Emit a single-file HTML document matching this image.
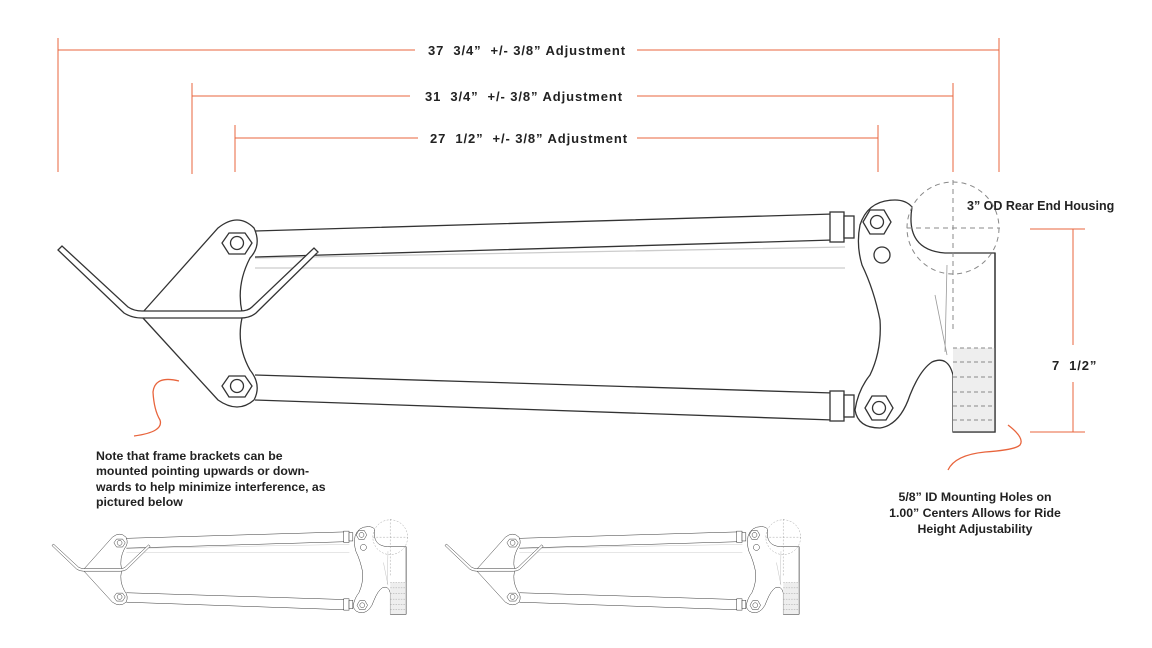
<!DOCTYPE html>
<html><head><style>
body{margin:0;background:#fff;}
svg{display:block;font-family:"Liberation Sans",sans-serif;}
.t{font-weight:bold;font-size:13px;fill:#222;letter-spacing:0.9px;}
.h{font-weight:bold;font-size:12.5px;fill:#222;}
.n{font-weight:bold;font-size:12.3px;fill:#222;}
</style></head><body>
<svg width="1152" height="648" viewBox="0 0 1152 648">
<defs>
<g id="part" fill="none" stroke="#333" stroke-width="1.3">
  <path d="M255 258 L845 247 M255 268 L845 268" stroke="#ccc"/>
  <path d="M255 231 L833 214 M255 257 L833 240" />
  <rect x="830" y="212" width="14" height="30" fill="#fff"/>
  <rect x="844" y="216" width="10" height="22" fill="#fff"/>
  <path d="M255 375 L833 393 M255 400 L833 420"/>
  <rect x="830" y="391" width="14" height="30" fill="#fff"/>
  <rect x="844" y="395" width="10" height="22" fill="#fff"/>
  <path d="M143 312 L218 228 Q238 212 254 228 Q262 245 250 258 Q236 285 242 312 M143 318 L218 400 Q238 414 254 400 Q262 385 250 370 Q236 345 242 318" fill="#fff"/>
  <path d="M58 250 L62 246 L128 307 Q134 311 142 311 L240 311 Q248 311 252 307 L314 248 L318 252 L256 313 Q250 318 240 318 L142 318 Q132 318 124 313 Z" fill="#fff"/>
  <polygon points="229,233 245,233 252,243 245,254 229,254 222,243" fill="#fff"/>
  <circle cx="237" cy="243" r="6.5"/>
  <polygon points="229,376 245,376 252,386 245,397 229,397 222,386" fill="#fff"/>
  <circle cx="237" cy="386" r="6.5"/>
  <path d="M860 225 Q868 200 895 200 Q906 200 912 207 Q905 250 945 253 L995 253 L995 432 L953 432 L953 375 Q948 355 932 362 Q920 370 910 395 Q900 425 880 428 Q858 428 855 410 Q858 390 870 375 Q882 350 880 320 Q874 290 862 265 Q856 245 860 225 Z" fill="#fff"/>
  <path d="M953 375 Q956 410 990 425" stroke-width="1"/>
  <rect x="953" y="348" width="42" height="84" fill="#eee" stroke="none"/>
  <path d="M953 348 L995 348 M953 362 L995 362 M953 377 L995 377 M953 392 L995 392 M953 406 L995 406 M953 420 L995 420" stroke="#888" stroke-dasharray="4 3" stroke-width="1"/>
  <path d="M995 253 L995 432 L953 432" />
  <path d="M935 295 L947 355 M947 265 L945 352" stroke="#999" stroke-width="0.8"/>
  <circle cx="953" cy="228" r="46" stroke="#888" stroke-dasharray="5 4" stroke-width="1"/>
  <path d="M953 180 L953 330 M907 228 L1000 228" stroke="#888" stroke-dasharray="5 4" stroke-width="1"/>
  <polygon points="870,210 884,210 891,222 884,234 870,234 863,222" fill="#fff"/>
  <circle cx="877" cy="222" r="6.5"/>
  <circle cx="882" cy="255" r="8"/>
  <polygon points="872,396 886,396 893,408 886,420 872,420 865,408" fill="#fff"/>
  <circle cx="879" cy="408" r="6.5"/>
</g>
</defs>

<g stroke="#e8643c" stroke-width="1" fill="none">
  <path d="M58 38 V172 M999 38 V172 M58 50 H415 M637 50 H999"/>
  <path d="M192 83 V174 M953 83 V172 M192 96 H410 M637 96 H953"/>
  <path d="M235 125 V172 M878 125 V172 M235 138 H418 M637 138 H878"/>
  <path d="M1030 229 H1085 M1030 432 H1085 M1073 229 V345 M1073 382 V432"/>
</g>
<text class="t" x="527" y="55" text-anchor="middle">37 &#160;3/4”  &#160;+/- 3/8”  Adjustment</text>
<text class="t" x="524" y="101" text-anchor="middle">31 &#160;3/4”  &#160;+/- 3/8”  Adjustment</text>
<text class="t" x="529" y="143" text-anchor="middle">27 &#160;1/2”  &#160;+/- 3/8”  Adjustment</text>
<text class="h" x="967" y="210">3” OD Rear End Housing</text>
<text class="t" x="1052" y="370">7 &#160;1/2”</text>

<use href="#part"/>

<g stroke="#e8643c" stroke-width="1.3" fill="none">
  <path d="M179 381 Q155 375 153 392 Q154 410 160 420 Q164 432 134 436"/>
  <path d="M1008 425 Q1025 438 1020 445 Q1015 450 985 452 Q955 455 948 470"/>
</g>

<text class="n"><tspan x="96" y="460">Note that frame brackets can be</tspan><tspan x="96" y="475">mounted pointing upwards or down-</tspan><tspan x="96" y="491">wards to help minimize interference, as</tspan><tspan x="96" y="506">pictured below</tspan></text>
<text class="n" text-anchor="middle"><tspan x="975" y="501">5/8” ID Mounting Holes on</tspan><tspan x="975" y="517">1.00” Centers Allows for Ride</tspan><tspan x="975" y="533">Height Adjustability</tspan></text>

<use href="#part" transform="translate(30 451) scale(0.378)"/>
<use href="#part" transform="translate(423 451) scale(0.378)"/>
</svg>
</body></html>
